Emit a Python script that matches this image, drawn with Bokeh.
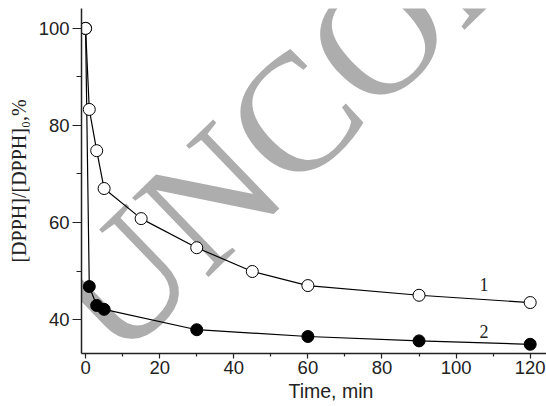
from bokeh.plotting import figure
from bokeh.models import Range1d, Label, FixedTicker, Title
from bokeh.embed import file_html
from bokeh.resources import INLINE

# data (time in min, [DPPH]/[DPPH]0 in %)
t1 = [0, 1, 3, 5, 15, 30, 45, 60, 90, 120]
v1 = [100, 83.3, 74.8, 67.0, 60.8, 54.8, 49.9, 47.0, 45.0, 43.5]
t2 = [0, 1, 3, 5, 30, 60, 90, 120]
v2 = [100, 46.8, 42.9, 42.1, 37.9, 36.5, 35.6, 34.9]
x_ticks = [0, 20, 40, 60, 80, 100, 120]
x_minor = [10, 30, 50, 70, 90, 110]
y_ticks = [40, 60, 80, 100]
y_minor = [50, 70, 90]
curve_labels = ["1", "2"]
curve_label_pos = [(107.5, 47.2), (107.5, 37.6)]
x_title = "Time, min"
y_title = "[DPPH]/[DPPH]\u2080,%"

p = figure(width=546, height=406, output_backend="svg", toolbar_location=None,
           x_range=Range1d(-1.1, 124.4), y_range=Range1d(33.0, 104.1),
           min_border_left=81, min_border_right=0, min_border_top=8,
           min_border_bottom=53)
p.outline_line_color = None
p.xgrid.visible = False
p.ygrid.visible = False
p.background_fill_color = "white"
p.border_fill_color = "white"

# watermark
wm = Label(x=-2.0, y=39.2, text="UNCORRECTED", angle=44, angle_units="deg",
           text_font="Liberation Serif", text_font_size="168px",
           text_color="#adadad", text_align="left", text_baseline="alphabetic",
           level="underlay")
p.add_layout(wm)

p.line(t2, v2, line_color="black", line_width=1.2)
p.line(t1, v1, line_color="black", line_width=1.2)
p.scatter(t2, v2, size=12, marker="circle", fill_color="black", line_color="black")
p.scatter(t1, v1, size=12, marker="circle", fill_color="white", line_color="black", line_width=1)

for lab, (lx, ly) in zip(curve_labels, curve_label_pos):
    p.add_layout(Label(x=lx, y=ly, text=lab, text_font="Liberation Serif",
                       text_font_size="18px", text_color="#222222",
                       text_align="center", text_baseline="alphabetic"))

for ax in (p.xaxis[0], p.yaxis[0]):
    ax.axis_line_color = "#222222"
    ax.axis_line_width = 1.5
    ax.major_tick_line_color = "#222222"
    ax.minor_tick_line_color = "#222222"
    ax.major_tick_line_width = 1.2
    ax.minor_tick_line_width = 1.2
    ax.major_tick_in = 0
    ax.minor_tick_in = 0
    ax.major_label_text_font = "Liberation Sans"
    ax.major_label_text_font_size = "18.5px"
    ax.major_label_text_color = "#222222"

p.xaxis[0].ticker = FixedTicker(ticks=x_ticks, minor_ticks=x_minor)
p.yaxis[0].ticker = FixedTicker(ticks=y_ticks, minor_ticks=y_minor)
p.xaxis[0].major_tick_out = 5
p.xaxis[0].minor_tick_out = 3
p.yaxis[0].major_tick_out = 9
p.yaxis[0].minor_tick_out = 5
p.xaxis[0].major_label_standoff = 2
p.yaxis[0].major_label_standoff = 3

# x title under the axis, shifted right as in the reference
p.add_layout(Title(text=x_title, align="left", offset=207, standoff=3,
                   text_font="Liberation Sans", text_font_size="19.5px",
                   text_font_style="normal", text_color="#222222"), "below")

p.yaxis[0].axis_label = y_title
p.yaxis[0].axis_label_text_font = "Liberation Serif"
p.yaxis[0].axis_label_text_font_size = "20px"
p.yaxis[0].axis_label_text_font_style = "normal"
p.yaxis[0].axis_label_text_color = "#222222"
p.yaxis[0].axis_label_standoff = 6

open("out.html", "w").write(file_html(p, INLINE))
